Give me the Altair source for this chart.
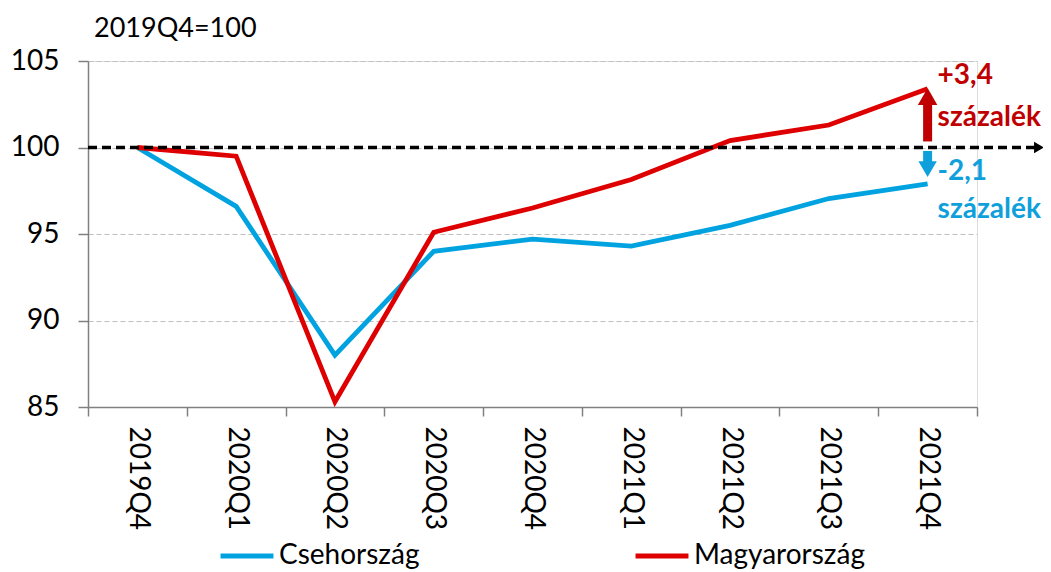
import altair as alt
import pandas as pd

quarters = ["2019Q4", "2020Q1", "2020Q2", "2020Q3", "2020Q4",
            "2021Q1", "2021Q2", "2021Q3", "2021Q4"]
cz_values = [100.0, 96.6, 88.0, 94.0, 94.7, 94.3, 95.5, 97.05, 97.9]
hu_values = [100.0, 99.5, 85.3, 95.1, 96.5, 98.15, 100.4, 101.3, 103.4]
series_names = ["Csehország", "Magyarország"]
series_colors = ["#00A3E0", "#DE0000"]

# annotation values
base_value = 100
hu_change_label = ["+3,4", "százalék"]
hu_label_y = [104.15, 101.7]
cz_change_label = ["-2,1", "százalék"]
cz_label_y = [98.6, 96.4]
hu_arrow = [100.35, 102.5]   # shaft
hu_head = [102.95]
cz_arrow = [99.8, 99.1]
cz_head = [98.75]

FONT = "Lato"

rows = []
for q, c, h in zip(quarters, cz_values, hu_values):
    rows.append({"q": q, "v": c, "s": series_names[0]})
    rows.append({"q": q, "v": h, "s": series_names[1]})
df = pd.DataFrame(rows)

xscale = alt.Scale(domain=quarters, type="band", paddingInner=0, paddingOuter=0)
yscale = alt.Scale(domain=[85, 105], nice=False, zero=False)

x_axis = alt.Axis(title=None, labelAngle=90, labelFontSize=28, labelFont=FONT,
                  labelColor="black", tickBand="extent", tickSize=9,
                  tickColor="#808080", domainColor="#808080", domainWidth=1.5,
                  tickWidth=1.5, labelPadding=10, grid=False)
y_axis = alt.Axis(title=None, values=[85, 90, 95, 100, 105], labelFontSize=28,
                  labelFont=FONT, labelColor="black", tickSize=10,
                  tickColor="#808080", domainColor="#808080", domainWidth=1.5,
                  tickWidth=1.5, labelPadding=19, grid=True, gridColor="#BFBFBF",
                  gridDash=[5, 3], gridWidth=1.2)

lines = alt.Chart(df).mark_line(strokeWidth=4.8, strokeJoin="miter").encode(
    x=alt.X("q:N", scale=xscale, axis=x_axis, sort=quarters, bandPosition=0.5),
    y=alt.Y("v:Q", scale=yscale, axis=y_axis),
    color=alt.Color("s:N", scale=alt.Scale(domain=series_names, range=series_colors),
                    legend=alt.Legend(title=None, orient="none", legendX=130, legendY=466,
                                      direction="horizontal", symbolType="stroke",
                                      symbolStrokeWidth=5, symbolSize=2800,
                                      labelFontSize=28, labelFont=FONT, labelLimit=400,
                                      labelColor="black", columnPadding=205,
                                      labelOffset=3)),
    order=alt.Order("s:N", sort="ascending"),
)

base_df = pd.DataFrame({"y": [base_value]})
base_rule = alt.Chart(base_df).mark_rule(color="black", strokeWidth=3.5,
                                         strokeDash=[9, 5]).encode(
    y=alt.Y("y:Q", scale=yscale),
    x=alt.value(0), x2=alt.value(949),
)
base_head = alt.Chart(base_df).mark_point(shape="triangle-right", filled=True,
                                          color="black", size=130, opacity=1).encode(
    y=alt.Y("y:Q", scale=yscale), x=alt.value(951),
)

last_q = quarters[-1]
hu_arrow_df = pd.DataFrame({"q": [last_q], "y1": [hu_arrow[0]], "y2": [hu_arrow[1]]})
cz_arrow_df = pd.DataFrame({"q": [last_q], "y1": [cz_arrow[0]], "y2": [cz_arrow[1]]})
hu_shaft = alt.Chart(hu_arrow_df).mark_rule(color="#C00000", strokeWidth=9).encode(
    x=alt.X("q:N", scale=xscale, bandPosition=0.5),
    y=alt.Y("y1:Q", scale=yscale), y2="y2:Q")
cz_shaft = alt.Chart(cz_arrow_df).mark_rule(color="#0FA0DC", strokeWidth=9).encode(
    x=alt.X("q:N", scale=xscale, bandPosition=0.5),
    y=alt.Y("y1:Q", scale=yscale), y2="y2:Q")
hu_head_c = alt.Chart(pd.DataFrame({"q": [last_q], "y": hu_head})).mark_point(
    shape="triangle-up", filled=True, color="#C00000", size=380, opacity=1).encode(
    x=alt.X("q:N", scale=xscale, bandPosition=0.5), y=alt.Y("y:Q", scale=yscale))
cz_head_c = alt.Chart(pd.DataFrame({"q": [last_q], "y": cz_head})).mark_point(
    shape="triangle-down", filled=True, color="#0FA0DC", size=340, opacity=1).encode(
    x=alt.X("q:N", scale=xscale, bandPosition=0.5), y=alt.Y("y:Q", scale=yscale))

hu_text_df = pd.DataFrame({"q": [last_q] * 2, "y": hu_label_y, "t": hu_change_label})
cz_text_df = pd.DataFrame({"q": [last_q] * 2, "y": cz_label_y, "t": cz_change_label})
hu_text = alt.Chart(hu_text_df).mark_text(align="left", dx=10, fontSize=28,
                                          fontWeight="bold", font=FONT,
                                          color="#C00000").encode(
    x=alt.X("q:N", scale=xscale, bandPosition=0.5), y=alt.Y("y:Q", scale=yscale), text="t:N")
cz_text = alt.Chart(cz_text_df).mark_text(align="left", dx=10, fontSize=28,
                                          fontWeight="bold", font=FONT,
                                          color="#0FA0DC").encode(
    x=alt.X("q:N", scale=xscale, bandPosition=0.5), y=alt.Y("y:Q", scale=yscale), text="t:N")

chart = alt.layer(lines, base_rule, base_head, hu_shaft, hu_head_c, cz_shaft, cz_head_c,
                  hu_text, cz_text).properties(
    width=889, height=346,
    title=alt.TitleParams("2019Q4=100", anchor="start", frame="group", fontSize=27,
                          font=FONT, fontWeight="normal", color="black", dx=6, offset=4),
    autosize=alt.AutoSizeParams(type="none"),
    padding={"left": 80, "top": 53, "right": 66, "bottom": 164},
).configure_view(stroke=None).configure(background="white")

chart.save("out.html", embed_options={"renderer": "svg", "actions": False})
